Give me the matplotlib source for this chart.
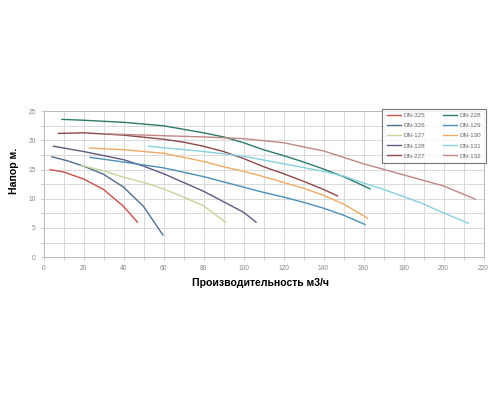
import numpy as np
import matplotlib.pyplot as plt
from matplotlib.ticker import MultipleLocator

plt.rcParams["font.family"] = ["Liberation Sans", "DejaVu Sans"]

# ---- data (flow m3/h, head m) ----
labels = ["DN-325", "DN-326", "DN-127", "DN-128", "DN-227",
          "DN-228", "DN-129", "DN-130", "DN-131", "DN-132"]

q_325 = [3.3, 10, 20, 30, 40, 47]
h_325 = [15.0, 14.6, 13.4, 11.6, 8.7, 6.0]

q_326 = [4.2, 12, 20, 30, 40, 50, 59.7]
h_326 = [17.2, 16.5, 15.6, 14.2, 12.0, 8.7, 3.8]

q_127 = [19, 30, 40, 50, 60, 70, 80, 91]
h_127 = [15.7, 14.8, 13.7, 12.8, 11.7, 10.3, 8.8, 6.0]

q_128 = [5, 20, 40, 50, 60, 70, 80, 90, 100, 106.3]
h_128 = [19.0, 18.1, 16.7, 15.6, 14.3, 12.8, 11.3, 9.5, 7.7, 6.0]

q_227 = [7.5, 20, 40, 60, 70, 80, 90, 100, 110, 120, 130, 140, 147]
h_227 = [21.2, 21.3, 20.9, 20.2, 19.7, 19.0, 18.1, 16.9, 15.5, 14.3, 13.0, 11.6, 10.5]

q_228 = [9.2, 20, 40, 60, 80, 90, 100, 110, 120, 130, 140, 150, 163.3]
h_228 = [23.6, 23.45, 23.1, 22.5, 21.3, 20.6, 19.6, 18.4, 17.4, 16.3, 15.1, 13.8, 11.7]

q_129 = [23.3, 40, 60, 80, 90, 100, 110, 120, 130, 140, 150, 160.8]
h_129 = [17.1, 16.3, 15.3, 13.8, 12.9, 12.0, 11.1, 10.3, 9.4, 8.4, 7.2, 5.6]

q_130 = [23, 40, 60, 80, 90, 100, 110, 120, 130, 140, 150, 162]
h_130 = [18.7, 18.4, 17.8, 16.4, 15.5, 14.7, 13.8, 12.8, 11.8, 10.6, 9.1, 6.7]

q_131 = [52.5, 80, 100, 120, 140, 150, 160, 170, 180, 190, 200, 212.5]
h_131 = [19.0, 18.1, 17.3, 16.0, 14.7, 13.9, 12.7, 11.6, 10.4, 9.1, 7.6, 5.8]

q_132 = [33.3, 60, 80, 100, 120, 140, 160, 180, 200, 215.8]
h_132 = [21.1, 20.8, 20.6, 20.3, 19.6, 18.2, 16.0, 14.1, 12.2, 9.95]

series_q = [q_325, q_326, q_127, q_128, q_227, q_228, q_129, q_130, q_131, q_132]
series_h = [h_325, h_326, h_127, h_128, h_227, h_228, h_129, h_130, h_131, h_132]

colors = ["#c8504a", "#4f6d8f", "#c3d69b", "#5f5a7e", "#8c4848",
          "#2e7a6a", "#4a8fb8", "#f0aa66", "#86d0e0", "#c08686"]

# ----------------------------
fig = plt.figure(figsize=(5, 4), dpi=100)
ax = fig.add_axes([0.087, 0.357, 0.880, 0.365])

for q, h, c, lab in zip(series_q, series_h, colors, labels):
    ax.plot(q, h, color=c, lw=1.0, label=lab)

ax.set_xlim(0, 220)
ax.set_ylim(0, 25)
ax.xaxis.set_major_locator(MultipleLocator(20))
ax.xaxis.set_minor_locator(MultipleLocator(10))
ax.yaxis.set_major_locator(MultipleLocator(5))
ax.yaxis.set_minor_locator(MultipleLocator(2.5))
ax.grid(which="both", color="#d9d9d9", lw=0.7)
ax.set_axisbelow(True)
ax.tick_params(which="both", labelsize=4.8, labelcolor="#888888",
               color="#bbbbbb", length=2, width=0.6)
for s in ax.spines.values():
    s.set_color("#bbbbbb")
    s.set_linewidth(0.7)

# axis titles (placed like in the original picture)
fig.text(0.522, 0.292, "Производительность м3/ч", fontsize=7.6,
         fontweight="bold", ha="center", va="center")
fig.text(0.028, 0.572, "Напор м.", fontsize=7.6, fontweight="bold",
         rotation=90, ha="center", va="center")

leg = ax.legend(ncol=2, loc="upper right", bbox_to_anchor=(1.005, 1.018),
                fontsize=4.5, frameon=True, fancybox=False, handlelength=2.2,
                handletextpad=0.5, columnspacing=2.8, borderpad=0.7,
                labelspacing=0.75, borderaxespad=0)
leg.get_frame().set_edgecolor("#555555")
leg.get_frame().set_linewidth(0.8)
for t in leg.get_texts():
    t.set_color("#666666")

fig.savefig("out.png", dpi=100)
